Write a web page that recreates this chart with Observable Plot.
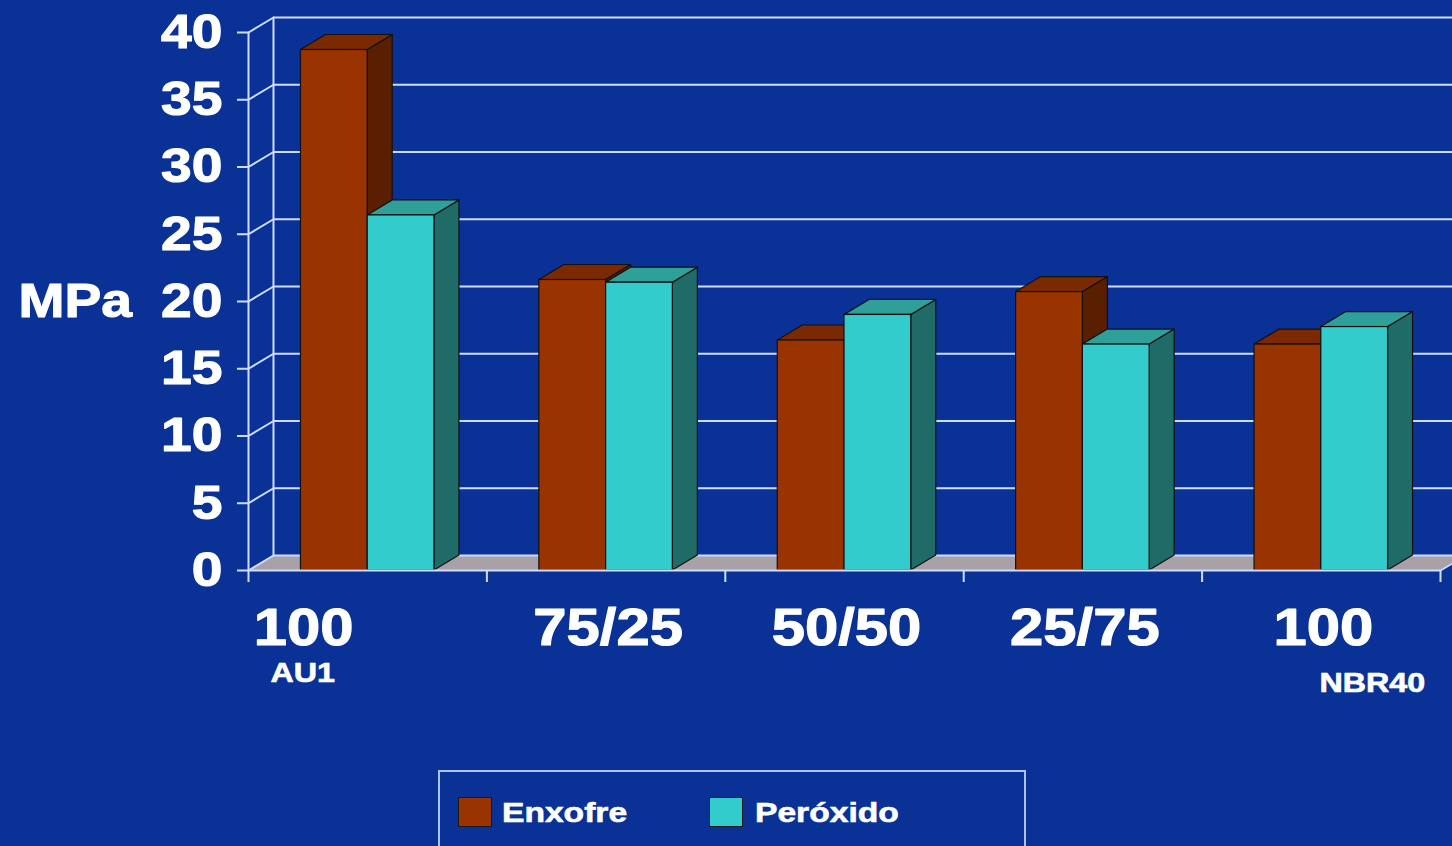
<!DOCTYPE html>
<html>
<head>
<meta charset="utf-8">
<script src="https://cdn.jsdelivr.net/npm/d3@7"></script>
<script src="https://cdn.jsdelivr.net/npm/@observablehq/plot@0.6"></script>
<style>
  html, body { margin: 0; padding: 0; background: #0a3296; overflow: hidden; width: 1452px; height: 846px; }
  #chart { position: absolute; left: 0; top: 0; }
  #chart svg { display: block; overflow: hidden; }
  #legend { position: absolute; left: 438px; top: 770px; width: 588px; height: 110px; box-sizing: border-box;
            border: 2px solid #aec4ff; font-family: "Liberation Sans", Arial, sans-serif; font-weight: bold; color: #ffffff; }
  #legend .sw { position: absolute; top: 25px; width: 34px; height: 30px; box-sizing: border-box; border: 1px solid #1a1a1a; }
  #legend .lab { position: absolute; top: 27px; font-size: 28px; line-height: 28px; transform: scaleX(1.2); transform-origin: left center; white-space: nowrap; -webkit-text-stroke: 0.6px #ffffff; }
</style>
</head>
<body>
<div id="chart"></div>
<div id="legend"></div>
<script>
// ---- data ----
const categories = ["100", "75/25", "50/50", "25/75", "100"];
const subLabels = ["AU1", "", "", "", "NBR40"];
const series = ["Enxofre", "Peróxido"];
const enxofre = [38.7, 21.6, 17.1, 20.7, 16.8];
const peroxido = [26.4, 21.4, 19.0, 16.8, 18.1];
const yTicks = [0, 5, 10, 15, 20, 25, 30, 35, 40];
const yLabel = "MPa";

// ---- style / layout ----
const W = 1452, H = 760;
const mL = 248, mR = 12, mT = 32, mB = 190;
const DEPTH_X = 25, DEPTH_Y = 15;             // 3D depth offset in pixels
const yMax = 40;
const xSpan = categories.length;
const dxD = DEPTH_X * xSpan / (W - mL - mR);  // depth in x-data units
const dyD = DEPTH_Y * yMax / (H - mT - mB);   // depth in y-data units
const barW = 0.28;
const values = [enxofre, peroxido];
const frontColors = ["#993300", "#33cccc"];
const topColors = ["#7a2900", "#2f9f9a"];
const sideColors = ["#5a1f00", "#1f6b67"];
const gridColor = "#cfdcff";
const floorColor = "#a8a1a7";
const font = "'Liberation Sans', Arial, sans-serif";
const txt = {fontWeight: "bold", fill: "#ffffff", stroke: "#ffffff", strokeWidth: 1.1};

// ---- derived tables ----
const bars = categories.flatMap((c, i) => series.map((s, j) => ({
  id: i * 2 + j, i, j, value: values[j][i],
  x1: i + 0.5 + (j - 1) * barW, x2: i + 0.5 + j * barW
})));
const sides = bars.flatMap(b => [
  {id: b.id, j: b.j, x: b.x2, y1: 0, y2: b.value},
  {id: b.id, j: b.j, x: b.x2 + dxD, y1: dyD, y2: b.value + dyD}
]);
const tops = bars.flatMap(b => [
  {id: b.id, j: b.j, y: b.value, x1: b.x1, x2: b.x2},
  {id: b.id, j: b.j, y: b.value + dyD, x1: b.x1 + dxD, x2: b.x2 + dxD}
]);
const grid = yTicks.flatMap(g => [
  {g, x: 0, y: g}, {g, x: dxD, y: g + dyD}, {g, x: xSpan + 1, y: g + dyD}
]);
const walls = [
  {k: "back", x: dxD, y: dyD}, {k: "back", x: dxD, y: yMax + dyD},
  {k: "front", x: 0, y: 0}, {k: "front", x: 0, y: yMax},
  {k: "edge", x: xSpan, y: 0}, {k: "edge", x: xSpan + dxD, y: dyD}
];
const floor = [{y: 0, x1: 0, x2: xSpan}, {y: dyD, x1: dxD, x2: xSpan + dxD}];

const plot = Plot.plot({
  width: W, height: H,
  marginLeft: mL, marginRight: mR, marginTop: mT, marginBottom: mB,
  x: {type: "linear", domain: [0, xSpan]},
  y: {type: "linear", domain: [0, yMax]},
  color: {type: "identity"},
  style: {background: "#0a3296", color: "#ffffff", fontFamily: font, fontWeight: "bold", overflow: "hidden"},
  marks: [
    Plot.areaX(floor, {y: "y", x1: "x1", x2: "x2", fill: floorColor}),
    Plot.line(grid, {x: "x", y: "y", z: "g", stroke: gridColor, strokeWidth: 2}),
    Plot.line(walls, {x: "x", y: "y", z: "k", stroke: gridColor, strokeWidth: 2}),
    Plot.areaY(sides, {x: "x", y1: "y1", y2: "y2", z: "id", fill: d => sideColors[d.j], stroke: "#111", strokeWidth: 1.2}),
    Plot.areaX(tops, {y: "y", x1: "x1", x2: "x2", z: "id", fill: d => topColors[d.j], stroke: "#111", strokeWidth: 1.2}),
    Plot.rect(bars, {x1: "x1", x2: "x2", y1: 0, y2: "value", fill: d => frontColors[d.j], stroke: "#111", strokeWidth: 1.2}),
    Plot.ruleY([0], {x1: 0, x2: xSpan, stroke: gridColor, strokeWidth: 2}),
    Plot.axisX({ticks: d3.range(0, xSpan + 1), tickSize: 12, tickFormat: () => "", stroke: gridColor, strokeWidth: 2}),
    Plot.axisY({ticks: yTicks, tickSize: 11, tickPadding: 15, fontSize: 48, fontWeight: "bold", fill: "#ffffff",
                stroke: gridColor, strokeWidth: 2, textStroke: "#ffffff", textStrokeWidth: 1.1, label: null}),
    Plot.text([yLabel], {frameAnchor: "left", y: 20, text: d => d, textAnchor: "start", dx: -230, fontSize: 48, ...txt}),
    Plot.text([0], {x: i => i + 0.5, y: 0, text: i => categories[i], dx: -64, dy: 58, fontSize: 52, ...txt}),
    Plot.text([1, 2, 3, 4], {x: i => i + 0.5, y: 0, text: i => categories[i], dx: 2, dy: 58, fontSize: 52, ...txt}),
    Plot.text([0], {x: i => i + 0.5, y: 0, text: i => subLabels[i], dx: -65, dy: 103, fontSize: 28, ...txt, strokeWidth: 0.7}),
    Plot.text([4], {x: i => i + 0.5, y: 0, text: i => subLabels[i], dx: 51, dy: 113, fontSize: 28, ...txt, strokeWidth: 0.7})
  ]
});

// horizontally widen the text a bit, as in the original slide
plot.querySelectorAll("text").forEach(t => {
  const tr = t.getAttribute("transform");
  if (tr && t.textContent) t.setAttribute("transform", tr + " scale(1.15,1)");
});
document.getElementById("chart").appendChild(plot);

// ---- legend (HTML, below the svg) ----
const legend = document.getElementById("legend");
const legendPos = [{sw: 18, lab: 62}, {sw: 269, lab: 315}];
series.forEach((s, j) => {
  const sw = document.createElement("div");
  sw.className = "sw";
  sw.style.left = legendPos[j].sw + "px";
  sw.style.background = frontColors[j];
  legend.appendChild(sw);
  const lab = document.createElement("div");
  lab.className = "lab";
  lab.style.left = legendPos[j].lab + "px";
  lab.textContent = s;
  legend.appendChild(lab);
});
</script>
</body>
</html>
